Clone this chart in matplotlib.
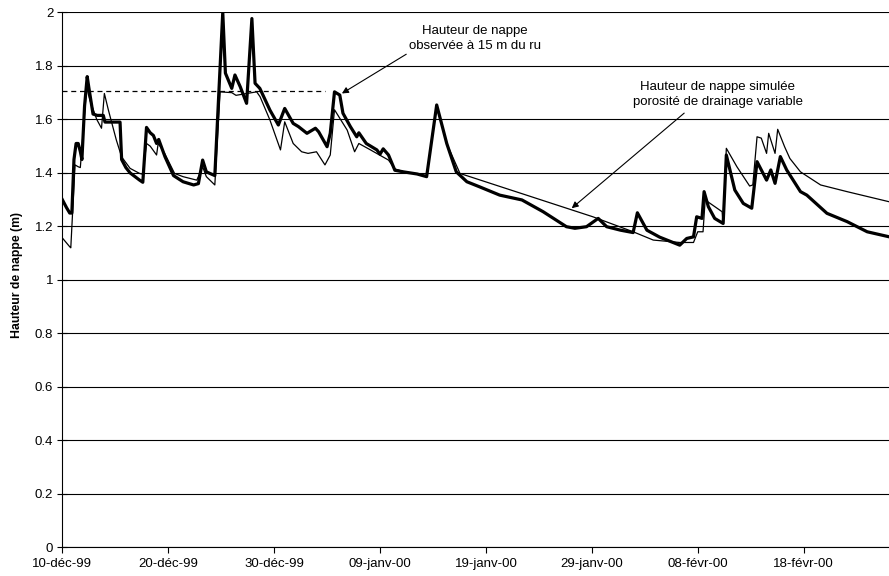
import datetime as dt

import numpy as np
import matplotlib
matplotlib.use('Agg')
import matplotlib.pyplot as plt
import matplotlib.dates as mdates
from matplotlib.ticker import FuncFormatter, MultipleLocator


start_date = dt.datetime(1999, 12, 10)

# observed water table (days after 10-dec-99, metres)
obs_days = [0, 0.4, 0.7, 0.9, 1.1, 1.3, 1.5, 1.7, 1.85, 2.1, 2.35, 2.5, 2.9, 3.3,
            3.87, 4.03, 5.45, 5.6, 6.0, 6.4, 6.9, 7.3, 7.6, 7.95, 8.3, 8.6, 8.9,
            9.1, 9.7, 10.5, 11.4, 12.4, 12.85, 13.25, 13.6, 14.4, 14.7, 15.15,
            15.4, 16.0, 16.3, 16.8, 17.4, 17.9, 18.2, 18.65, 19.6, 20.4, 21.0,
            21.8, 22.3, 23.1, 23.9, 24.2, 25.0, 25.3, 25.7, 26.2, 26.5, 27.2,
            27.8, 28.0, 28.7, 29.7, 30.0, 30.3, 30.8, 31.4, 32.2, 33.5, 34.4,
            35.35, 36.3, 37.2, 38.2, 39.4, 41.3, 43.4, 45.4, 47.6, 48.4, 49.5,
            50.6, 51.4, 52.7, 53.9, 54.3, 55.2, 56.4, 58.3, 58.96, 59.6, 59.9,
            60.4, 60.6, 61.0, 61.6, 62.4, 62.7, 63.5, 64.3, 65.1, 65.6, 66.5,
            66.9, 67.3, 67.8, 68.4, 69.7, 70.3, 72.2, 74.1, 76.0, 78.1]
obs_vals = [1.30, 1.27, 1.25, 1.25, 1.45, 1.51, 1.51, 1.48, 1.45, 1.65, 1.76, 1.72,
            1.62, 1.615, 1.615, 1.59, 1.59, 1.45, 1.42, 1.40, 1.385, 1.373, 1.365,
            1.57, 1.55, 1.54, 1.51, 1.525, 1.46, 1.39, 1.367, 1.355, 1.36, 1.448,
            1.404, 1.39, 1.635, 2.0, 1.773, 1.716, 1.766, 1.722, 1.66, 1.977,
            1.735, 1.716, 1.635, 1.579, 1.641, 1.585, 1.573, 1.548, 1.567, 1.554,
            1.498, 1.548, 1.703, 1.691, 1.623, 1.573, 1.535, 1.55, 1.51, 1.486,
            1.47, 1.49, 1.467, 1.41, 1.404, 1.396, 1.386, 1.654, 1.51, 1.404,
            1.367, 1.348, 1.317, 1.299, 1.255, 1.199, 1.193, 1.199, 1.23, 1.199,
            1.186, 1.177, 1.251, 1.186, 1.16, 1.13, 1.155, 1.161, 1.236, 1.23,
            1.33, 1.274, 1.23, 1.211, 1.467, 1.336, 1.286, 1.268, 1.442, 1.373,
            1.411, 1.361, 1.461, 1.411, 1.33, 1.317, 1.249, 1.218, 1.18, 1.161]

# simulated water table, variable drainage porosity
sim_days = [0, 0.7, 0.8, 1.2, 1.5, 1.7, 2.3, 2.6, 3.25, 3.7, 3.97, 4.35, 5.1, 5.6,
            6.4, 7.3, 7.6, 7.95, 8.3, 8.9, 9.05, 9.4, 9.7, 10.6, 11.4, 12.7, 13.25,
            13.6, 14.4, 14.9, 16.0, 16.4, 18.35, 18.67, 19.6, 20.6, 21.0, 21.8,
            22.6, 23.2, 24.0, 24.8, 25.3, 25.7, 26.9, 27.6, 28.0, 29.1, 30.8,
            31.4, 32.2, 34.4, 35.35, 36.3, 37.55, 50.1, 53.9, 55.8, 58.3, 59.6,
            60.0, 60.5, 60.7, 62.3, 62.4, 62.7, 63.7, 64.9, 65.2, 65.6, 66.0,
            66.5, 66.7, 67.3, 67.55, 68.2, 68.7, 69.7, 71.6, 74.1, 78.1]
sim_vals = [1.157, 1.124, 1.12, 1.43, 1.423, 1.42, 1.72, 1.672, 1.60, 1.567, 1.697,
            1.635, 1.523, 1.46, 1.417, 1.398, 1.395, 1.51, 1.50, 1.467, 1.51, 1.49,
            1.47, 1.398, 1.386, 1.373, 1.423, 1.386, 1.355, 1.703, 1.70, 1.69,
            1.703, 1.685, 1.598, 1.486, 1.591, 1.51, 1.479, 1.473, 1.479, 1.43,
            1.467, 1.636, 1.56, 1.479, 1.51, 1.486, 1.448, 1.415, 1.405, 1.39,
            1.65, 1.51, 1.398, 1.236, 1.18, 1.149, 1.14, 1.14, 1.18, 1.18, 1.299,
            1.255, 1.211, 1.492, 1.423, 1.351, 1.355, 1.535, 1.53, 1.473, 1.548,
            1.473, 1.563, 1.498, 1.454, 1.404, 1.355, 1.33, 1.292]

# dashed reference level
ref_level = 1.708
ref_days = [0, 24.8]

mois = {12: "déc", 1: "janv", 2: "févr"}


def to_dates(days):
    return [start_date + dt.timedelta(days=d) for d in days]


def fmt_date(x, pos=None):
    d = mdates.num2date(x)
    return f"{d.day:02d}-{mois[d.month]}-{d.year % 100:02d}"


plt.rcParams['font.family'] = ['Liberation Sans', 'DejaVu Sans']

fig = plt.figure(figsize=(8.89, 5.76), dpi=100)
ax = fig.add_axes([0.0701, 0.0495, 0.9299, 0.929])

ax.plot(to_dates(sim_days), sim_vals, color="black", lw=0.9, zorder=3)
ax.plot(to_dates(obs_days), obs_vals, color="black", lw=2.3, zorder=4)
ax.plot(to_dates(ref_days), [ref_level, ref_level], color="black", lw=0.9,
        ls=(0, (4, 3)), zorder=2)

ax.set_ylim(0, 2)
ax.set_xlim(start_date, start_date + dt.timedelta(days=78.06))
ax.yaxis.set_major_locator(MultipleLocator(0.2))
ax.yaxis.set_major_formatter(FuncFormatter(lambda v, p: f"{v:g}"))
ax.set_xticks(to_dates(range(0, 80, 10)))
ax.xaxis.set_major_formatter(FuncFormatter(fmt_date))

ax.grid(axis="y", color="black", lw=0.8)
ax.set_axisbelow(True)
for s in ["top", "right"]:
    ax.spines[s].set_visible(False)
ax.tick_params(axis="y", direction="inout", length=7, labelsize=9.5, pad=3)
ax.tick_params(axis="x", direction="out", length=4, labelsize=9.5)

ax.set_ylabel("Hauteur de nappe (m)", fontsize=8.8, fontweight="bold")
ax.yaxis.set_label_coords(-0.048, 0.51)

ax.annotate("Hauteur de nappe\nobservée à 15 m du ru",
            xy=(start_date + dt.timedelta(days=26.4), 1.697),
            xytext=(start_date + dt.timedelta(days=38.97), 1.902),
            ha="center", va="center", fontsize=9.5, linespacing=1.25,
            arrowprops=dict(arrowstyle="-|>", color="black", lw=0.8,
                            shrinkA=0, shrinkB=0,
                            relpos=(0.01, 0.0)))
ax.annotate("Hauteur de nappe simulée\nporosité de drainage variable",
            xy=(start_date + dt.timedelta(days=48.1), 1.268),
            xytext=(start_date + dt.timedelta(days=61.9), 1.693),
            ha="center", va="center", fontsize=9.5, linespacing=1.25,
            arrowprops=dict(arrowstyle="-|>", color="black", lw=0.8,
                            shrinkA=3, shrinkB=0,
                            relpos=(0.34, 0.0)))

fig.savefig("out.png", dpi=100)
